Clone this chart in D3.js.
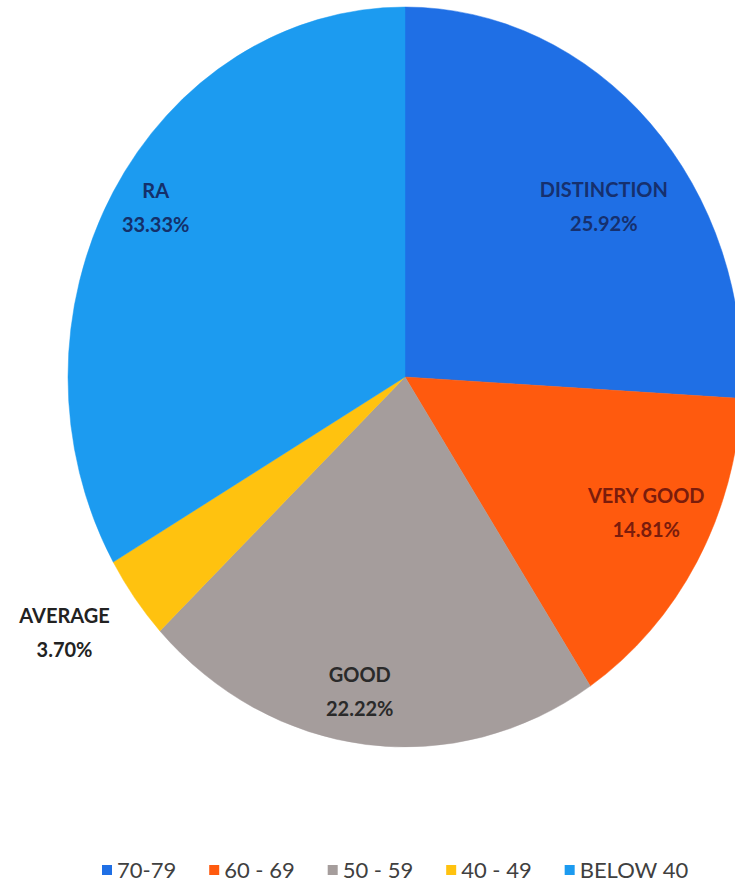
<!DOCTYPE html>
<html>
<head>
<meta charset="utf-8">
<script src="https://cdn.jsdelivr.net/npm/d3@7/dist/d3.min.js"></script>
<style>
  html, body { margin: 0; padding: 0; background: #ffffff; }
  svg { display: block; }
</style>
</head>
<body>
<svg id="chart" width="735" height="893"></svg>
<script>
// ---- data ----
const categories = ["DISTINCTION", "VERY GOOD", "GOOD", "AVERAGE", "RA"];
const percentages = [25.92, 14.81, 22.22, 3.70, 33.33];
const percentLabels = ["25.92%", "14.81%", "22.22%", "3.70%", "33.33%"];
const legendLabels = ["70-79", "60 - 69", "50 - 59", "40 - 49", "BELOW 40"];
const sliceColors = ["#1f6fe5", "#ff5a0e", "#a59d9c", "#ffc20f", "#1c9bf0"];
const labelColors = ["#16306e", "#7a1c0c", "#2a2a2a", "#222222", "#14306a"];

// ---- layout (kept separate from data) ----
const cx = 405, cy = 377;
const R = 370;                    // vertical radius
const xScaleFactor = 337 / 370;   // pie appears horizontally compressed
const labelRadiusFactor = [0.748, 0.804, 0.862, 1.224, 0.870];
const labelAngleOffsetDeg = [5.4, -2.9, 2.3, 2.3, 1.75];

const svg = d3.select("#chart");
const color = d3.scaleOrdinal().domain(categories).range(sliceColors);

const pie = d3.pie().sort(null).value(d => d.value).startAngle(0).endAngle(2 * Math.PI);
const data = categories.map((c, i) => ({ name: c, value: percentages[i], label: percentLabels[i], idx: i }));
const arcs = pie(data);
const arc = d3.arc().innerRadius(0).outerRadius(R);

const g = svg.append("g")
  .attr("transform", `translate(${cx},${cy}) scale(${xScaleFactor},1)`);

g.selectAll("path.slice")
  .data(arcs)
  .join("path")
  .attr("class", "slice")
  .attr("d", arc)
  .attr("fill", d => color(d.data.name))
  .attr("stroke", d => color(d.data.name))
  .attr("stroke-width", 0.5);

// labels
const labelG = svg.append("g");
arcs.forEach(d => {
  const i = d.data.idx;
  const a = (d.startAngle + d.endAngle) / 2 + labelAngleOffsetDeg[i] * Math.PI / 180;
  const r = R * labelRadiusFactor[i];
  const px = cx + Math.sin(a) * r * xScaleFactor;
  const py = cy - Math.cos(a) * r;
  const t = labelG.append("text")
    .attr("text-anchor", "middle")
    .attr("font-family", "Lato, 'Open Sans', sans-serif")
    .attr("font-weight", "bold")
    .attr("font-size", 20)
    .attr("fill", labelColors[i]);
  t.append("tspan").attr("x", px).attr("y", py - 17).attr("dy", "0.36em").text(d.data.name);
  t.append("tspan").attr("x", px).attr("y", py + 17).attr("dy", "0.36em").text(d.data.label);
});

// legend (laid out sequentially by measured text width)
const legendY = 870;
const lg = svg.append("g");
let xPos = 102;
legendLabels.forEach((lab, i) => {
  lg.append("rect")
    .attr("x", xPos)
    .attr("y", legendY - 5)
    .attr("width", 10)
    .attr("height", 10)
    .attr("fill", sliceColors[i]);
  const t = lg.append("text")
    .attr("x", xPos + 15)
    .attr("y", legendY)
    .attr("dy", "0.36em")
    .attr("font-family", "Lato, 'Open Sans', sans-serif")
    .attr("font-size", 22)
    .attr("fill", "#404040")
    .text(lab);
  xPos += 15 + t.node().getComputedTextLength() + 33;
});
</script>
</body>
</html>
